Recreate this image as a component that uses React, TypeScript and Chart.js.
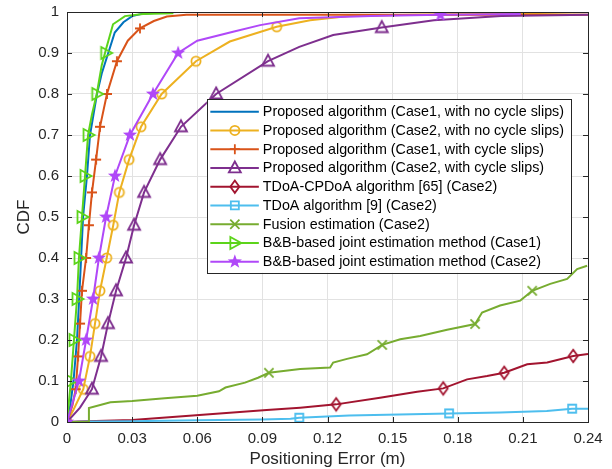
import React, { useEffect, useRef } from 'react';
import { Chart, registerables } from 'chart.js';

Chart.register(...registerables);

const FONT = '"Liberation Sans", Arial, Helvetica, sans-serif';
const TEXT = '#262626';

const X_TICKS = [0, 0.03, 0.06, 0.09, 0.12, 0.15, 0.18, 0.21, 0.24];
const X_TICK_LABELS = ['0', '0.03', '0.06', '0.09', '0.12', '0.15', '0.18', '0.21', '0.24'];
const Y_TICKS = [0, 0.1, 0.2, 0.3, 0.4, 0.5, 0.6, 0.7, 0.8, 0.9, 1];
const Y_TICK_LABELS = ['0', '0.1', '0.2', '0.3', '0.4', '0.5', '0.6', '0.7', '0.8', '0.9', '1'];

const X_TITLE = 'Positioning Error (m)';
const Y_TITLE = 'CDF';

const SERIES_NAMES = [
  'Proposed algorithm (Case1, with no cycle slips)',
  'Proposed algorithm (Case2, with no cycle slips)',
  'Proposed algorithm (Case1, with cycle slips)',
  'Proposed algorithm (Case2, with cycle slips)',
  'TDoA-CPDoA algorithm [65] (Case2)',
  'TDoA algorithm [9] (Case2)',
  'Fusion estimation (Case2)',
  'B&B-based joint estimation method (Case1)',
  'B&B-based joint estimation method (Case2)',
];
const SERIES_COLORS = ['#0072BD', '#EDB120', '#D95319', '#7E2F8E', '#A2142F', '#4DBEEE', '#77AC30', '#5CD41A', '#B048F8'];
const SERIES_MARKERS = ['none', 'circle', 'plus', 'triangle', 'diamond', 'square', 'cross', 'triangleRight', 'star'];

// 1: Proposed (Case1, no cycle slips)
const p1X = [0, 0.0015, 0.003, 0.0046, 0.0056, 0.0065, 0.0074, 0.0092, 0.0106, 0.0122, 0.0138, 0.016, 0.019, 0.022, 0.026, 0.03, 0.035, 0.043, 0.0507];
const p1Y = [0, 0.04, 0.1, 0.2, 0.3, 0.4, 0.5, 0.6, 0.7, 0.75, 0.8, 0.85, 0.9, 0.95, 0.975, 0.99, 0.996, 0.999, 1.0];
const p1MX: number[] = [];
const p1MY: number[] = [];

// 2: Proposed (Case2, no cycle slips)
const p2X = [0, 0.003, 0.0075, 0.0106, 0.0129, 0.0152, 0.0183, 0.0213, 0.0241, 0.0286, 0.0341, 0.0436, 0.0594, 0.075, 0.0966, 0.112, 0.13, 0.16, 0.2, 0.24];
const p2Y = [0, 0.03, 0.08, 0.16, 0.24, 0.32, 0.4, 0.48, 0.56, 0.64, 0.72, 0.8, 0.88, 0.928, 0.964, 0.98, 0.99, 0.993, 0.996, 1.0];
const p2MX = [0, 0.0075, 0.0106, 0.0129, 0.0152, 0.0183, 0.0213, 0.0241, 0.0286, 0.0341, 0.0436, 0.0594, 0.0966];
const p2MY = [0, 0.08, 0.16, 0.24, 0.32, 0.4, 0.48, 0.56, 0.64, 0.72, 0.8, 0.88, 0.964];

// 3: Proposed (Case1, with cycle slips)
const p3X = [0, 0.0025, 0.004, 0.0051, 0.006, 0.0069, 0.0088, 0.0101, 0.0115, 0.0134, 0.0152, 0.0184, 0.023, 0.028, 0.0336, 0.04, 0.046, 0.055, 0.24];
const p3Y = [0, 0.04, 0.08, 0.16, 0.24, 0.32, 0.4, 0.48, 0.56, 0.64, 0.72, 0.8, 0.88, 0.93, 0.96, 0.978, 0.989, 0.993, 0.993];
const p3MX = [0.004, 0.0051, 0.006, 0.0069, 0.0088, 0.0101, 0.0115, 0.0134, 0.0152, 0.0184, 0.023, 0.0336];
const p3MY = [0.08, 0.16, 0.24, 0.32, 0.4, 0.48, 0.56, 0.64, 0.72, 0.8, 0.88, 0.96];

// 4: Proposed (Case2, with cycle slips)
const p4X = [0, 0.006, 0.0115, 0.0157, 0.0189, 0.0226, 0.0272, 0.0309, 0.0355, 0.0429, 0.0525, 0.0687, 0.0926, 0.107, 0.1226, 0.145, 0.169, 0.2, 0.24];
const p4Y = [0, 0.035, 0.08, 0.16, 0.24, 0.32, 0.4, 0.48, 0.56, 0.64, 0.72, 0.8, 0.88, 0.915, 0.944, 0.962, 0.98, 0.99, 0.993];
const p4MX = [0, 0.0115, 0.0157, 0.0189, 0.0226, 0.0272, 0.0309, 0.0355, 0.0429, 0.0525, 0.0687, 0.0926, 0.145];
const p4MY = [0, 0.08, 0.16, 0.24, 0.32, 0.4, 0.48, 0.56, 0.64, 0.72, 0.8, 0.88, 0.962];

// 5: TDoA-CPDoA
const p5X = [0, 0.005, 0.03, 0.061, 0.092, 0.1074, 0.124, 0.1442, 0.1613, 0.1733, 0.1843, 0.1935, 0.2014, 0.212, 0.2212, 0.2332, 0.24];
const p5Y = [0, 0.001, 0.005, 0.017, 0.029, 0.035, 0.043, 0.059, 0.074, 0.082, 0.104, 0.112, 0.12, 0.141, 0.145, 0.161, 0.166];
const p5MX = [0.124, 0.1733, 0.2014, 0.2332];
const p5MY = [0.043, 0.082, 0.12, 0.161];

// 6: TDoA
const p6X = [0, 0.0106, 0.03, 0.06, 0.09, 0.103, 0.107, 0.13, 0.176, 0.1995, 0.221, 0.2327, 0.24];
const p6Y = [0, 0.001, 0.002, 0.004, 0.006, 0.008, 0.0105, 0.016, 0.021, 0.023, 0.027, 0.0325, 0.0325];
const p6MX = [0.107, 0.176, 0.2327];
const p6MY = [0.0105, 0.021, 0.0325];

// 7: Fusion estimation
const p7X = [0, 0.0101, 0.0101, 0.02, 0.03, 0.045, 0.06, 0.07, 0.073, 0.082, 0.088, 0.093, 0.1074, 0.1212, 0.1226, 0.129, 0.1382, 0.1452, 0.1535, 0.1627, 0.1751, 0.188, 0.1912, 0.1995, 0.2088, 0.2143, 0.2226, 0.2304, 0.235, 0.2396];
const p7Y = [0, 0, 0.034, 0.048, 0.051, 0.058, 0.064, 0.075, 0.084, 0.096, 0.108, 0.12, 0.129, 0.133, 0.145, 0.154, 0.165, 0.188, 0.202, 0.21, 0.225, 0.239, 0.267, 0.284, 0.296, 0.32, 0.337, 0.349, 0.373, 0.381];
const p7MX = [0.093, 0.1452, 0.188, 0.2143];
const p7MY = [0.12, 0.188, 0.239, 0.32];

// 8: B&B (Case1)
const p8X = [0, 0.0018, 0.0032, 0.0046, 0.0055, 0.0069, 0.0083, 0.0097, 0.0115, 0.0137, 0.016, 0.018, 0.0212, 0.0267, 0.035, 0.049];
const p8Y = [0, 0.1, 0.2, 0.3, 0.4, 0.5, 0.6, 0.7, 0.75, 0.8, 0.87, 0.91, 0.97, 0.99, 0.995, 0.997];
const p8MX = [0.0018, 0.0032, 0.0046, 0.0055, 0.0069, 0.0083, 0.0097, 0.0137, 0.0178];
const p8MY = [0.1, 0.2, 0.3, 0.4, 0.5, 0.6, 0.7, 0.8, 0.9];

// 9: B&B (Case2)
const p9X = [0, 0.0055, 0.0088, 0.012, 0.0147, 0.018, 0.0221, 0.029, 0.0396, 0.0512, 0.06, 0.0765, 0.089, 0.107, 0.14, 0.172, 0.209];
const p9Y = [0, 0.1, 0.2, 0.3, 0.4, 0.5, 0.6, 0.7, 0.8, 0.9, 0.93, 0.952, 0.968, 0.985, 0.99, 0.993, 0.995];
const p9MX = [0, 0.0055, 0.0088, 0.012, 0.0147, 0.018, 0.0221, 0.029, 0.0396, 0.0512, 0.172];
const p9MY = [0, 0.1, 0.2, 0.3, 0.4, 0.5, 0.6, 0.7, 0.8, 0.9, 0.993];

const LINES_X = [p1X, p2X, p3X, p4X, p5X, p6X, p7X, p8X, p9X];
const LINES_Y = [p1Y, p2Y, p3Y, p4Y, p5Y, p6Y, p7Y, p8Y, p9Y];
const MARKS_X = [p1MX, p2MX, p3MX, p4MX, p5MX, p6MX, p7MX, p8MX, p9MX];
const MARKS_Y = [p1MY, p2MY, p3MY, p4MY, p5MY, p6MY, p7MY, p8MY, p9MY];

function drawMarker(ctx: CanvasRenderingContext2D, shape: string, x: number, y: number, color: string) {
  ctx.save();
  ctx.strokeStyle = color;
  ctx.fillStyle = color;
  ctx.lineWidth = 1.8;
  ctx.lineJoin = 'miter';
  ctx.beginPath();
  switch (shape) {
    case 'circle':
      ctx.arc(x, y, 4.6, 0, Math.PI * 2);
      ctx.stroke();
      break;
    case 'plus':
      ctx.moveTo(x - 5, y); ctx.lineTo(x + 5, y);
      ctx.moveTo(x, y - 5); ctx.lineTo(x, y + 5);
      ctx.stroke();
      break;
    case 'triangle':
      ctx.moveTo(x, y - 6.5); ctx.lineTo(x + 6, y + 4.5); ctx.lineTo(x - 6, y + 4.5); ctx.closePath();
      ctx.stroke();
      break;
    case 'diamond':
      ctx.moveTo(x, y - 6.2); ctx.lineTo(x + 4.5, y); ctx.lineTo(x, y + 6.2); ctx.lineTo(x - 4.5, y); ctx.closePath();
      ctx.stroke();
      break;
    case 'square':
      ctx.rect(x - 4, y - 4, 8, 8);
      ctx.stroke();
      break;
    case 'cross':
      ctx.moveTo(x - 4.6, y - 4.6); ctx.lineTo(x + 4.6, y + 4.6);
      ctx.moveTo(x + 4.6, y - 4.6); ctx.lineTo(x - 4.6, y + 4.6);
      ctx.stroke();
      break;
    case 'triangleRight':
      ctx.moveTo(x + 6.5, y); ctx.lineTo(x - 4.5, y - 6); ctx.lineTo(x - 4.5, y + 6); ctx.closePath();
      ctx.stroke();
      break;
    case 'star': {
      const R = 7.5, r = 3.0;
      for (let k = 0; k < 10; k++) {
        const rad = k % 2 === 0 ? R : r;
        const a = -Math.PI / 2 + (k * Math.PI) / 5;
        const px = x + rad * Math.cos(a);
        const py = y + rad * Math.sin(a);
        if (k === 0) ctx.moveTo(px, py); else ctx.lineTo(px, py);
      }
      ctx.closePath();
      ctx.fill();
      break;
    }
    default:
      break;
  }
  ctx.restore();
}

function markerCanvas(shape: string, color: string): HTMLCanvasElement {
  const c = document.createElement('canvas');
  c.width = 20;
  c.height = 20;
  const cx = c.getContext('2d') as CanvasRenderingContext2D;
  drawMarker(cx, shape, 10, 10, color);
  return c;
}

const framePlugin = {
  id: 'frame',
  afterDatasetsDraw(chart: any) {
    const { ctx, chartArea: a, scales } = chart;
    ctx.save();
    ctx.strokeStyle = TEXT;
    ctx.lineWidth = 1;
    ctx.beginPath();
    const L = 5;
    X_TICKS.forEach((v) => {
      const px = Math.round(scales.x.getPixelForValue(v)) + 0.5;
      ctx.moveTo(px, a.bottom); ctx.lineTo(px, a.bottom - L);
      ctx.moveTo(px, a.top); ctx.lineTo(px, a.top + L);
    });
    Y_TICKS.forEach((v) => {
      const py = Math.round(scales.y.getPixelForValue(v)) + 0.5;
      ctx.moveTo(a.left, py); ctx.lineTo(a.left + L, py);
      ctx.moveTo(a.right, py); ctx.lineTo(a.right - L, py);
    });
    ctx.stroke();
    ctx.strokeRect(Math.round(a.left) + 0.5, Math.round(a.top) + 0.5, Math.round(a.right - a.left), Math.round(a.bottom - a.top));
    ctx.restore();
  },
};

const legendPlugin = {
  id: 'insideLegend',
  afterDraw(chart: any) {
    const { ctx, chartArea: a } = chart;
    ctx.save();
    ctx.font = `14.3px ${FONT}`;
    let maxW = 0;
    SERIES_NAMES.forEach((n) => { maxW = Math.max(maxW, ctx.measureText(n).width); });
    const rowH = 18.75;
    const width = 56 + maxW + 7;
    const height = SERIES_NAMES.length * rowH + 5;
    const right = a.right - 17;
    const left = right - width;
    const top = a.top + 87;
    ctx.fillStyle = '#ffffff';
    ctx.fillRect(left, top, width, height);
    ctx.strokeStyle = TEXT;
    ctx.lineWidth = 1;
    ctx.strokeRect(Math.round(left) + 0.5, Math.round(top) + 0.5, Math.round(width), Math.round(height));
    ctx.textBaseline = 'middle';
    ctx.textAlign = 'left';
    SERIES_NAMES.forEach((name, i) => {
      const cy = top + 12.7 + i * rowH;
      ctx.strokeStyle = SERIES_COLORS[i];
      ctx.lineWidth = 2;
      ctx.beginPath();
      ctx.moveTo(left + 3.5, cy);
      ctx.lineTo(left + 52, cy);
      ctx.stroke();
      drawMarker(ctx, SERIES_MARKERS[i], left + 28, cy, SERIES_COLORS[i]);
      ctx.fillStyle = '#000000';
      ctx.fillText(name, left + 56, cy + 0.5);
    });
    ctx.restore();
  },
};

export default function App() {
  const ref = useRef<HTMLCanvasElement | null>(null);

  useEffect(() => {
    if (!ref.current) return;
    const n = SERIES_NAMES.length;
    const datasets: any[] = [];
    for (let i = 0; i < n; i++) {
      datasets.push({
        label: SERIES_NAMES[i],
        data: LINES_X[i].map((x, k) => ({ x, y: LINES_Y[i][k] })),
        borderColor: SERIES_COLORS[i],
        backgroundColor: SERIES_COLORS[i],
        borderWidth: 2,
        pointRadius: 0,
        tension: 0,
        fill: false,
        order: 2 * (n - i),
      });
      if (MARKS_X[i].length > 0) {
        datasets.push({
          label: SERIES_NAMES[i] + ' markers',
          data: MARKS_X[i].map((x, k) => ({ x, y: MARKS_Y[i][k] })),
          showLine: false,
          pointStyle: markerCanvas(SERIES_MARKERS[i], SERIES_COLORS[i]),
          pointRadius: 10,
          borderColor: SERIES_COLORS[i],
          backgroundColor: SERIES_COLORS[i],
          order: 2 * (n - i) - 1,
        });
      }
    }

    const chart = new Chart(ref.current, {
      type: 'line',
      data: { datasets },
      plugins: [framePlugin, legendPlugin],
      options: {
        animation: false,
        responsive: false,
        maintainAspectRatio: false,
        layout: { padding: { top: 12, right: 24, left: 0, bottom: 0 } },
        plugins: { legend: { display: false }, tooltip: { enabled: false } },
        scales: {
          x: {
            type: 'linear',
            min: 0,
            max: 0.24,
            afterBuildTicks: (s: any) => { s.ticks = X_TICKS.map((v) => ({ value: v })); },
            afterFit: (s: any) => { s.height = 47; s.paddingLeft = 0; s.paddingRight = 0; s.paddingTop = 0; s.paddingBottom = 0; },
            ticks: {
              autoSkip: false,
              maxRotation: 0,
              padding: 8,
              color: TEXT,
              font: { family: FONT, size: 15 },
              callback: (_v: any, i: number) => X_TICK_LABELS[i],
            },
            grid: { color: '#e2e2e2', drawTicks: false, lineWidth: 1 },
            border: { display: false },
            title: {
              display: true,
              text: X_TITLE,
              color: TEXT,
              font: { family: FONT, size: 17, lineHeight: 1.1 },
              padding: { top: 0, bottom: 0 },
            },
          },
          y: {
            type: 'linear',
            min: 0,
            max: 1,
            afterBuildTicks: (s: any) => { s.ticks = Y_TICKS.map((v) => ({ value: v })); },
            afterFit: (s: any) => { s.width = 67; s.paddingLeft = 0; s.paddingRight = 0; s.paddingTop = 0; s.paddingBottom = 0; },
            ticks: {
              autoSkip: false,
              padding: 8,
              color: TEXT,
              font: { family: FONT, size: 15 },
              callback: (_v: any, i: number) => Y_TICK_LABELS[i],
            },
            grid: { color: '#e2e2e2', drawTicks: false, lineWidth: 1 },
            border: { display: false },
            title: {
              display: true,
              text: Y_TITLE,
              color: TEXT,
              font: { family: FONT, size: 17, lineHeight: 1.2 },
              padding: { top: 14, bottom: 0 },
            },
          },
        },
      } as any,
    });
    return () => chart.destroy();
  }, []);

  return (
    <div style={{ position: 'absolute', left: 0, top: 0, width: 612, height: 469, background: '#ffffff' }}>
      <canvas ref={ref} width={612} height={469} style={{ display: 'block', width: 612, height: 469 }} />
    </div>
  );
}
